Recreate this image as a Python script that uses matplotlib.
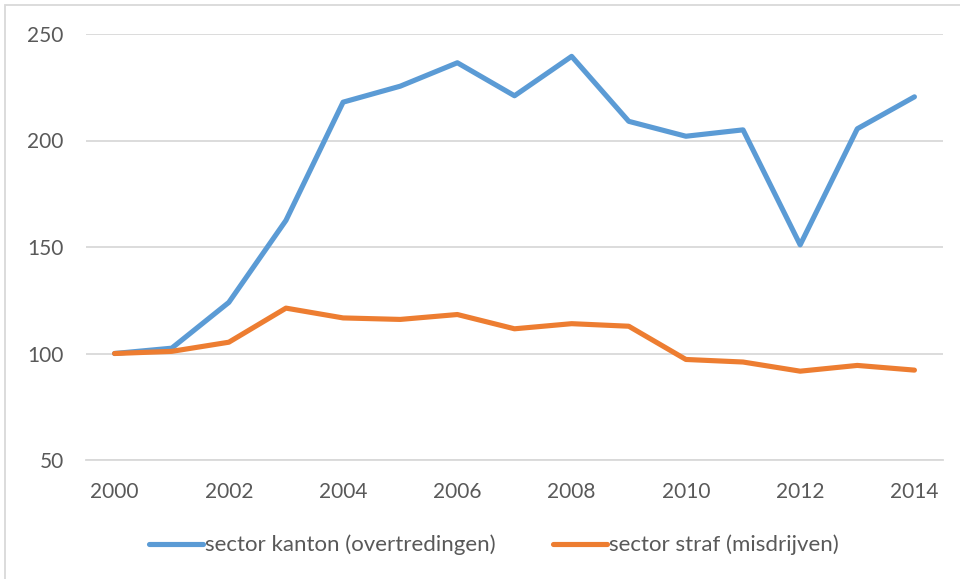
import matplotlib
matplotlib.use("Agg")
import matplotlib.pyplot as plt
from matplotlib.patches import Rectangle
from matplotlib.lines import Line2D

years = list(range(2000, 2015))
kanton = [100, 102.5, 124, 162.5, 218, 225.5, 236.5, 221, 239.5, 209, 202, 205, 151, 205.5, 220.5]
straf = [100, 101, 105.3, 121.3, 116.7, 116, 118.3, 111.6, 114, 112.8, 97.2, 96, 91.7, 94.4, 92.2]
yticks = [50, 100, 150, 200, 250]
labels = ["sector kanton (overtredingen)", "sector straf (misdrijven)"]

plt.rcParams['font.family'] = ['Lato', 'DejaVu Sans']
fig = plt.figure(figsize=(9.6, 5.79), dpi=100)
ax = fig.add_axes([86/960, 1-460/579, (943-86)/960, (460-34)/579])

blue = "#5B9BD5"
orange = "#ED7D31"
ax.plot(years, kanton, color=blue, lw=3.7, solid_capstyle='round', solid_joinstyle='round', zorder=3)
ax.plot(years, straf, color=orange, lw=3.7, solid_capstyle='round', solid_joinstyle='round', zorder=3)

ax.set_xlim(1999.5, 2014.5)
ax.set_ylim(50, 250)
ax.set_yticks(yticks)
ax.set_xticks(years[::2])
ax.grid(axis='y', color='#D9D9D9', lw=1.3, zorder=0)
for s in ['top', 'right', 'left']:
    ax.spines[s].set_visible(False)
ax.spines['bottom'].set_color('#D9D9D9')
ax.spines['bottom'].set_linewidth(1.3)
ax.tick_params(axis='both', length=0, labelsize=15, colors='#595959')
ax.tick_params(axis='y', pad=16)
ax.tick_params(axis='x', pad=15.5)

handles = [Line2D([], [], color=blue, lw=3.7, solid_capstyle='round'),
           Line2D([], [], color=orange, lw=3.7, solid_capstyle='round')]
fig.legend(handles, labels, loc='center', bbox_to_anchor=(494/960, 1-545/579), ncol=2,
           frameon=False, fontsize=16, labelcolor='#595959', handlelength=2.4,
           handletextpad=0.1, columnspacing=2.6)

fig.patches.append(Rectangle((5/960, -0.1), 1.2, 1.1 - 5/579, transform=fig.transFigure,
                             fill=False, edgecolor='#D9D9D9', lw=1.3))

fig.savefig("out.png", dpi=100)
